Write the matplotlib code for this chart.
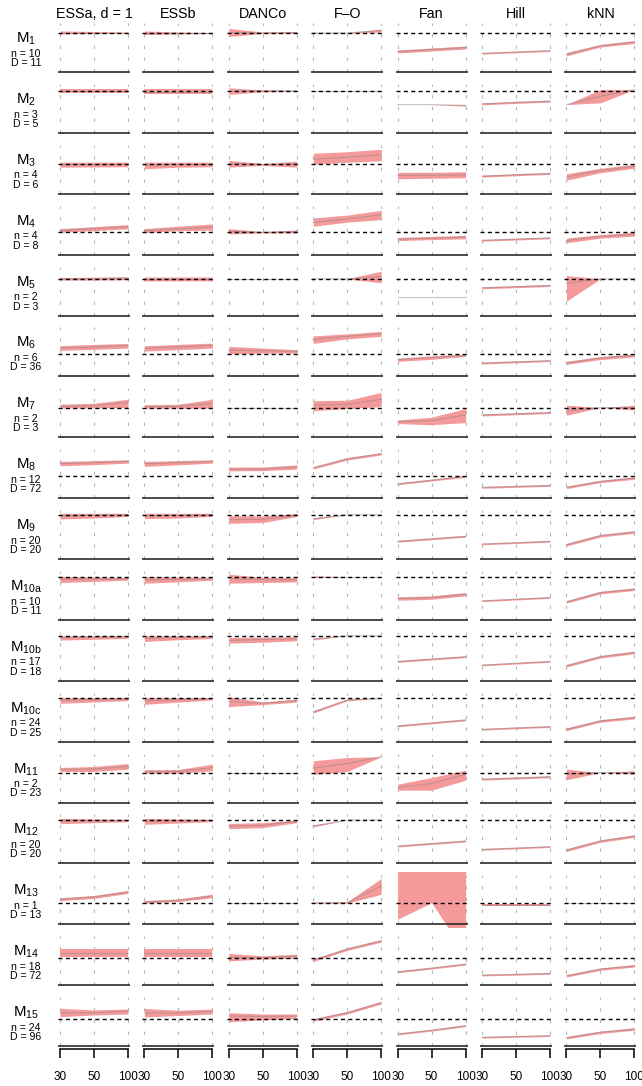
"""Intrinsic-dimension estimates per manifold (rows) and estimator (columns).

Each panel: estimate vs sample size (30, 50, 100), with a band, the true
dimension as a dashed line and the baseline as a solid line.
Values are heights above the baseline, read off the reference figure.
"""
import matplotlib

matplotlib.use("Agg")
import matplotlib.pyplot as plt

plt.rcParams["font.family"] = ["Liberation Sans", "DejaVu Sans"]
plt.rcParams["mathtext.fontset"] = "custom"
plt.rcParams["mathtext.rm"] = "Liberation Sans"
plt.rcParams["mathtext.it"] = "Liberation Sans:italic"
plt.rcParams["lines.scale_dashes"] = False

METHODS = ["ESSa, d = 1", "ESSb", "DANCo", "F\u2013O", "Fan", "Hill", "kNN"]
ROWS = ["1", "2", "3", "4", "5", "6", "7", "8", "9", "10a", "10b", "10c",
        "11", "12", "13", "14", "15"]
N_DIM = [10, 3, 4, 4, 2, 6, 2, 12, 20, 10, 17, 24, 2, 20, 1, 18, 24]
D_DIM = [11, 5, 6, 8, 3, 36, 3, 72, 20, 11, 18, 25, 23, 20, 13, 72, 96]
XLABELS = ["30", "50", "100"]

# level of the true dimension (dashed line) in each row
REF = [39, 42, 29.3, 22.3, 36.7, 22.3, 29.7, 21.7, 44.3, 43.3, 45, 43.3,
       30, 43.3, 21.3, 26.7, 27]

# per row: (mid, low, high) at sample sizes 30, 50, 100
ESSA = [
    ([39.5, 39.5, 39.5], [38, 38.5, 39], [41, 40.5, 40]),
    ([42, 42, 42], [40, 40, 40], [44, 44, 44]),
    ([29.3, 29.3, 29.3], [26.6, 26.8, 27], [31.6, 31.6, 31.6]),
    ([24, 26, 27.8], [22.3, 24, 25.8], [26, 28, 30]),
    ([36.7, 36.8, 37.3], [35.5, 35.5, 35.8], [38, 38.3, 38.8]),
    ([28.3, 29.5, 30.7], [26, 27, 28.3], [30.7, 32, 33]),
    ([31, 31.7, 34.7], [29.2, 29.3, 29.7], [33, 34, 38]),
    ([34.5, 35.5, 36.7], [32.3, 33.5, 35], [36.7, 37.5, 38.3]),
    ([43, 43.7, 44.3], [40, 41, 42.5], [45.7, 45.7, 45.7]),
    ([40.5, 40.8, 41], [37.3, 38.5, 39.7], [43.5, 43, 42.3]),
    ([43, 43.5, 44], [40.7, 41.5, 42.3], [45, 45, 45]),
    ([41.3, 42, 42.5], [38.3, 39.7, 41], [44, 44, 44]),
    ([33, 33.5, 36], [31, 31, 33.3], [35, 36, 39]),
    ([42.3, 42.7, 43], [39.7, 40.7, 41.7], [45, 44.5, 44]),
    ([25, 27.3, 32.3], [23.5, 25.8, 30.8], [26.5, 28.8, 33.8]),
    ([31.7, 31.7, 31.7], [28.3, 28.3, 28.3], [36, 36, 36]),
    ([33.3, 33.3, 35], [29.3, 31, 32], [37.7, 36, 37]),
]
ESSB = [
    ([39, 39, 39], [37.5, 38, 38.5], [41, 40, 39.5]),
    ([41.3, 41.3, 41.3], [38.5, 38.5, 38.5], [44, 44, 44]),
    ([28.5, 29, 29.3], [25, 26.5, 27], [31.6, 31.6, 31.6]),
    ([24, 25.8, 27.5], [22, 24, 24.5], [26, 28.5, 30.7]),
    ([36.5, 36.5, 36.5], [34.5, 34.7, 34.7], [38.5, 38.5, 38.5]),
    ([28, 29.5, 31], [25.3, 26.7, 28.3], [30.7, 32, 33.3]),
    ([30.7, 31, 34], [29, 29, 29.2], [32.5, 33, 38]),
    ([34.3, 35.5, 36.7], [31.7, 33.3, 35], [36.7, 37.5, 38.3]),
    ([43, 43.5, 44.3], [40.3, 41, 42.7], [45.7, 45.7, 45.7]),
    ([40, 40.5, 41], [36.7, 38, 39.7], [43.3, 43, 42.3]),
    ([42.5, 43.2, 43.8], [39.3, 41, 42.3], [45, 45, 45]),
    ([40.8, 41.8, 42.8], [37.3, 39.5, 41.7], [44, 44, 44]),
    ([31, 31, 35], [29.3, 29.3, 31.7], [32.7, 33, 38.3]),
    ([42, 42.5, 43], [39, 40.3, 41.7], [45, 44.5, 44]),
    ([22.3, 24, 28.3], [21, 22.7, 26.5], [23.7, 25.3, 30]),
    ([31.7, 31.7, 31.7], [28.3, 28.3, 28.3], [36, 36, 36]),
    ([33, 33, 34.7], [29, 30.5, 32], [37.5, 35.8, 37]),
]
DANCO = [
    ([39.5, 39, 39.5], [35.5, 38.5, 38.5], [43.5, 40, 40.5]),
    ([41.5, 42, 42], [38.5, 41, 41.5], [45, 43, 42.5]),
    ([30, 29.3, 29.6], [26.6, 28.3, 26.6], [33.3, 30.3, 32.6]),
    ([23.3, 22.3, 23], [20.7, 21.7, 21.5], [26, 23, 24.7]),
    ([36.7, 36.7, 36.7], [36.7, 36.7, 36.7], [36.7, 36.7, 36.7]),
    ([26.3, 25.7, 25], [22.5, 23.2, 23.3], [30, 28.3, 26.7]),
    ([29.7, 29.7, 29.7], [29.7, 29.7, 29.7], [29.7, 29.7, 29.7]),
    ([29, 29.2, 31], [27.3, 27.5, 29], [31, 31, 33.3]),
    ([39.3, 39.7, 44], [35.7, 36.5, 42.5], [43.3, 43, 45.5]),
    ([41.3, 40, 40], [36.7, 37.3, 38], [45.7, 42.5, 42.3]),
    ([40.5, 41.2, 42], [37.7, 38.5, 40], [43.3, 43.7, 44]),
    ([40, 38.3, 41], [35, 37, 39.5], [45, 39.7, 42.5]),
    ([30, 30, 30], [30, 30, 30], [30, 30, 30]),
    ([37.3, 38, 42], [34.7, 35.7, 40.7], [40, 40.7, 43.3]),
    ([21.3, 21.3, 21.3], [21.3, 21.3, 21.3], [21.3, 21.3, 21.3]),
    ([28, 27.5, 29], [24.3, 26, 27], [31.7, 29.3, 31]),
    ([30, 29.5, 30], [24.3, 26, 27.7], [33.3, 32, 32]),
]
FO = [
    ([39, 39, 41.5], [38.7, 38.7, 40], [39.3, 39.3, 43]),
    ([42, 42, 42], [41.7, 41.7, 41.7], [42.3, 42.3, 42.3]),
    ([34.5, 36.5, 39], [29.5, 31.5, 33], [40.5, 42, 44.5]),
    ([32.3, 35.7, 40], [28.3, 32.5, 35], [36.7, 39.5, 44.3]),
    ([36.7, 36.7, 38.7], [36.7, 36.5, 32.7], [36.7, 36.9, 44.3]),
    ([37, 40, 42.5], [33, 37.5, 40], [40.5, 42.5, 45]),
    ([32, 33, 38], [26.5, 28.7, 30.7], [36.5, 37, 44.7]),
    ([30.3, 39.3, 44.3], [29.1, 38.1, 43.1], [31.5, 40.5, 45.5]),
    ([40.3, 44.3, 44.3], [39.3, 44.3, 44.3], [41.3, 44.3, 44.3]),
    ([43.3, 43.3, 43.3], [42.6, 43.3, 43.3], [44, 43.3, 43.3]),
    ([41.7, 45, 45], [40.7, 45, 45], [42.7, 45, 45]),
    ([29.7, 41.7, 43.3], [28.5, 40.8, 43.3], [30.9, 42.6, 43.3]),
    ([34.3, 39, 45.7], [28, 31, 45.7], [41.7, 45, 45.7]),
    ([37.5, 43.3, 43.3], [36.5, 43.3, 43.3], [38.5, 43.3, 43.3]),
    ([21.5, 21.5, 38.3], [21, 21, 30], [22, 22.5, 45.7]),
    ([25, 36, 44.3], [23.7, 34.7, 43], [26.3, 37.3, 45.6]),
    ([26, 33.3, 43.3], [24.7, 32, 42], [27.3, 34.6, 44.6]),
]
FAN = [
    ([20.5, 22.5, 24.5], [19, 21, 23], [22, 24, 26]),
    ([28.3, 28.3, 27.5], [28.3, 28.3, 26.7], [28.3, 28.3, 28.3]),
    ([18.3, 18.5, 18.8], [15, 15.5, 16], [21.5, 21.5, 22]),
    ([15.5, 16.5, 17.5], [14, 15, 15.8], [17.2, 18.2, 19.3]),
    ([18.3, 18.3, 18.3], [18.3, 18.3, 18.3], [18.3, 18.3, 18.3]),
    ([16.7, 18.8, 21], [15, 17, 20], [18.3, 20.5, 22.3]),
    ([15.5, 16.5, 22.3], [13.7, 12.5, 14.7], [17.3, 20, 28.7]),
    ([14.3, 18, 21.7], [13.4, 17.1, 20.8], [15.2, 18.9, 22.6]),
    ([17.7, 20.2, 22.7], [16.8, 19.3, 21.8], [18.6, 21.1, 23.6]),
    ([21.3, 22.3, 25.7], [19.6, 20.6, 24], [23, 24, 27.4]),
    ([19.3, 21.7, 24], [18.4, 20.8, 23.1], [20.2, 22.6, 24.9]),
    ([15.7, 18.7, 21.7], [14.8, 17.8, 20.8], [16.6, 19.6, 22.6]),
    ([15, 19, 28.3], [12.3, 12.3, 22.3], [18.3, 25, 32.3]),
    ([17.3, 19.8, 22.3], [16.4, 18.9, 21.4], [18.2, 20.7, 23.2]),
    ([float("nan")] * 3, [5, 21.7, -30.2], [60, 60, 60]),
    ([13.3, 17, 21], [12.4, 16.1, 20.1], [14.2, 17.9, 21.9]),
    ([12, 15.8, 20.3], [11.1, 14.9, 19.4], [12.9, 16.7, 21.2]),
]
HILL = [
    ([18.7, 20, 21.3], [17.9, 19.2, 20.5], [19.5, 20.8, 22.1]),
    ([29, 30.5, 31.7], [28, 29.5, 30.7], [30, 31.5, 32.7]),
    ([17.6, 19, 20.3], [16.6, 18, 19.3], [18.6, 20, 21.3]),
    ([14.3, 15.5, 16.7], [13.4, 14.6, 15.8], [15.2, 16.4, 17.6]),
    ([27.7, 28.8, 30], [26.7, 27.8, 29], [28.7, 29.8, 31]),
    ([13.3, 14.5, 15.7], [12.4, 13.6, 14.8], [14.2, 15.4, 16.6]),
    ([22.3, 23.5, 24.7], [21.3, 22.5, 23.7], [23.3, 24.5, 25.7]),
    ([10.7, 11.7, 12.7], [9.8, 10.8, 11.8], [11.6, 12.6, 13.6]),
    ([15, 16.3, 17.7], [14.2, 15.5, 16.9], [15.8, 17.1, 18.5]),
    ([19, 20.7, 22.3], [18.2, 19.9, 21.5], [19.8, 21.5, 23.1]),
    ([15.7, 17.5, 19.3], [14.9, 16.7, 18.5], [16.5, 18.3, 20.1]),
    ([12.3, 13.7, 15], [11.5, 12.9, 14.2], [13.1, 14.5, 15.8]),
    ([23.3, 24.5, 25.7], [22.3, 23.5, 24.7], [24.3, 25.5, 26.7]),
    ([14, 15.3, 16.7], [13.2, 14.5, 15.9], [14.8, 16.1, 17.5]),
    ([19, 19, 19], [18.1, 18.1, 18.1], [19.9, 19.9, 19.9]),
    ([10, 10.8, 11.7], [9.2, 10, 10.9], [10.8, 11.6, 12.5]),
    ([8.7, 9.5, 10.3], [7.9, 8.7, 9.5], [9.5, 10.3, 11.1]),
]
KNN = [
    ([17.7, 26.3, 30], [16, 25, 28.5], [19.5, 27.5, 31.5]),
    ([28.3, 36.6, 43.3], [28.3, 30, 43.3], [28.3, 43.3, 43.3]),
    ([16.6, 23.3, 27.3], [13.5, 21, 25.5], [20, 25.5, 29.5]),
    ([14, 18.3, 20.5], [11.8, 16.5, 18.5], [16.5, 20, 22.3]),
    ([32, 36.7, 36.7], [14.3, 36.7, 36.7], [40, 36.7, 36.7]),
    ([13.5, 18.3, 21], [12, 16.8, 19.5], [15, 19.8, 22.5]),
    ([26.3, 29.7, 29.7], [22, 29.7, 27.3], [32, 29.7, 32]),
    ([10.7, 16.7, 20], [9.5, 15.5, 18.8], [11.9, 17.9, 21.2]),
    ([14.3, 23.3, 27], [13, 22, 25.7], [15.6, 24.6, 28.3]),
    ([18, 27.3, 30.7], [16.7, 26, 29.4], [19.3, 28.6, 32]),
    ([15, 24, 28.3], [13.7, 22.7, 27], [16.3, 25.3, 29.6]),
    ([12.3, 20.7, 24], [11, 19.4, 22.7], [13.6, 22, 25.3]),
    ([28.3, 30, 30], [22.7, 30, 28.3], [33.3, 30, 31.7]),
    ([13.3, 22.3, 27.3], [12, 21, 26], [14.6, 23.6, 28.6]),
    ([21.3, 21.3, 21.3], [21.3, 21.3, 21.3], [21.3, 21.3, 21.3]),
    ([9.3, 16, 19.3], [8.1, 14.8, 18.1], [10.5, 17.2, 20.5]),
    ([8.3, 13.7, 17], [7.1, 12.5, 15.8], [9.5, 14.9, 18.2]),
]
SERIES = [ESSA, ESSB, DANCO, FO, FAN, HILL, KNN]

W, H = 642, 1086
BAND = "#F59A9A"
X = [0, 1, 2]


def fx(px):
    return px / W


def fy(py):
    return 1 - py / H


fig = plt.figure(figsize=(W / 100, H / 100), dpi=100)

for j, title in enumerate(METHODS):
    fig.text(fx(58 + 84.4 * j + 36), fy(18.5), title, ha="center",
             va="baseline", fontsize=10.3)

for i, row in enumerate(ROWS):
    yb = 72 + 60.875 * i
    fig.text(fx(26), fy(yb - 29.3), "M$_\\mathrm{%s}$" % row, ha="center",
             va="baseline", fontsize=10.8)
    fig.text(fx(26), fy(yb - 15.3), f"n = {N_DIM[i]}", ha="center",
             va="baseline", fontsize=7.6)
    fig.text(fx(26), fy(yb - 6), f"D = {D_DIM[i]}", ha="center",
             va="baseline", fontsize=7.6)

    for j, series in enumerate(SERIES):
        mid, lo, hi = series[i]
        left = 58 + 84.4 * j
        ax = fig.add_axes([fx(left), fy(yb + 3), 72 / W, 55 / H])
        ax.set_xlim(-0.06, 2.06)
        ax.set_ylim(-3, 52)
        ax.patch.set_visible(False)
        for s in ax.spines.values():
            s.set_visible(False)
        ax.set_yticks([])

        ax.vlines(X, 0, 49, colors="#b5b5b5", linewidth=0.8,
                  linestyles=(0, (2.4, 6.0)), zorder=1)
        ax.fill_between(X, lo, hi, color=BAND, linewidth=0, zorder=2)
        ax.plot(X, mid, color="0.5", alpha=0.45, linewidth=0.8, zorder=3)
        ax.axhline(REF[i], color="black", linewidth=1.0,
                   dashes=(2.9, 2.4), zorder=4)
        ax.axhline(0, color="#1a1a1a", linewidth=1.1, zorder=4)

        if i == len(ROWS) - 1:
            ax.spines["bottom"].set_visible(True)
            ax.spines["bottom"].set_bounds(0, 2)
            ax.spines["bottom"].set_linewidth(1.1)
            ax.set_xticks(X)
            ax.set_xticklabels(XLABELS, fontsize=8.5)
            ax.tick_params(axis="x", direction="out", length=6.5, width=1.1,
                           pad=9.5)
        else:
            ax.set_xticks([])

fig.savefig("out.png", dpi=100)
